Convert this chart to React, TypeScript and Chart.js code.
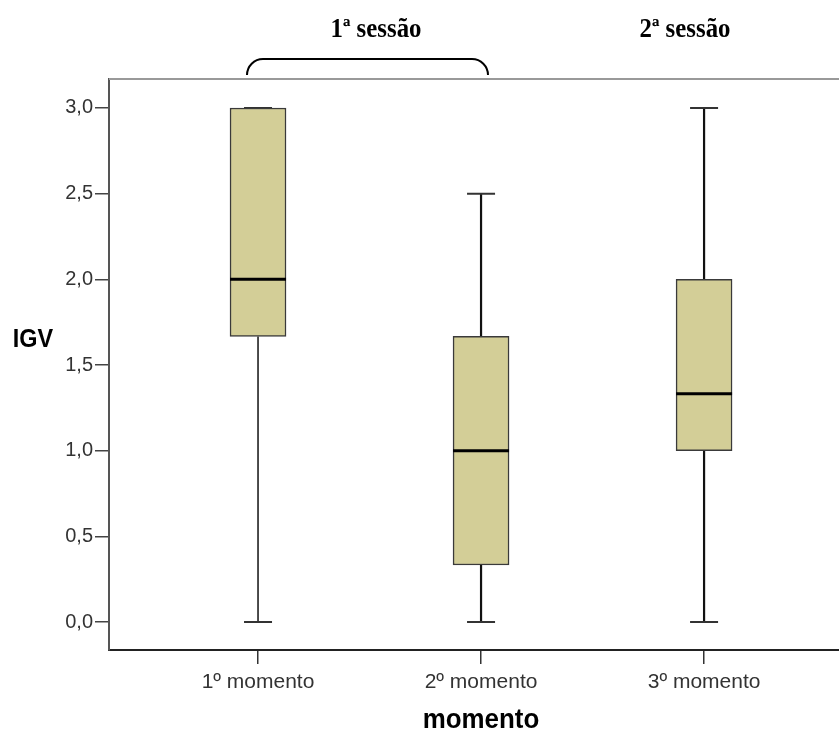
import React, { useEffect, useRef } from 'react';
import { Chart, registerables } from 'chart.js';

Chart.register(...registerables);

const categories = ['1º momento', '2º momento', '3º momento'];
const positions = [1, 2, 3];
const minimums = [0, 0, 0];
const lowerQuartiles = [1.667, 0.333, 1.0];
const medians = [2.0, 1.0, 1.333];
const upperQuartiles = [3.0, 1.667, 2.0];
const maximums = [3.0, 2.5, 3.0];
const yTicks = [0, 0.5, 1, 1.5, 2, 2.5, 3];
const sessionLabels = ['1ª sessão', '2ª sessão'];
const yTitle = 'IGV';
const xTitle = 'momento';

const SANS = '"Liberation Sans", Arial, sans-serif';
const SERIF = '"Liberation Serif", "Times New Roman", serif';

function condensedText(
  ctx: CanvasRenderingContext2D,
  text: string,
  x: number,
  y: number,
  font: string,
  sx: number,
  color: string
) {
  ctx.save();
  ctx.font = font;
  ctx.fillStyle = color;
  ctx.textAlign = 'center';
  ctx.textBaseline = 'alphabetic';
  ctx.translate(x, y);
  ctx.scale(sx, 1);
  ctx.fillText(text, 0, 0);
  ctx.restore();
}

const boxPlugin = {
  id: 'boxExtras',
  beforeDatasetsDraw(chart: any) {
    const { ctx, scales } = chart;
    const xs = scales.x;
    const ys = scales.y;
    ctx.save();
    positions.forEach((p, i) => {
      const cx = xs.getPixelForValue(p);
      const lw = i === 0 ? 1.5 : 2.2;
      ctx.strokeStyle = '#111';
      ctx.lineWidth = lw;
      ctx.beginPath();
      ctx.moveTo(cx, ys.getPixelForValue(minimums[i]));
      ctx.lineTo(cx, ys.getPixelForValue(lowerQuartiles[i]));
      ctx.moveTo(cx, ys.getPixelForValue(upperQuartiles[i]));
      ctx.lineTo(cx, ys.getPixelForValue(maximums[i]));
      ctx.stroke();
      ctx.strokeStyle = '#333';
      ctx.lineWidth = 2;
      ctx.beginPath();
      [minimums[i], maximums[i]].forEach((v) => {
        const y = ys.getPixelForValue(v);
        ctx.moveTo(cx - 14, y);
        ctx.lineTo(cx + 14, y);
      });
      ctx.stroke();
    });
    ctx.restore();
  },
  afterDatasetsDraw(chart: any) {
    const { ctx, scales } = chart;
    const xs = scales.x;
    const ys = scales.y;
    ctx.save();
    ctx.strokeStyle = '#000';
    ctx.lineWidth = 3;
    positions.forEach((p, i) => {
      const cx = xs.getPixelForValue(p);
      const y = ys.getPixelForValue(medians[i]);
      ctx.beginPath();
      ctx.moveTo(cx - 28, y);
      ctx.lineTo(cx + 28, y);
      ctx.stroke();
    });
    ctx.restore();
  },
  afterDraw(chart: any) {
    const { ctx, chartArea } = chart;
    ctx.save();
    // top frame line
    ctx.strokeStyle = '#999';
    ctx.lineWidth = 2;
    ctx.beginPath();
    ctx.moveTo(chartArea.left, chartArea.top);
    ctx.lineTo(chartArea.right, chartArea.top);
    ctx.stroke();

    // brace over first session
    ctx.strokeStyle = '#000';
    ctx.lineWidth = 2;
    ctx.beginPath();
    ctx.moveTo(247, 74);
    ctx.arcTo(247, 59, 263, 59, 16);
    ctx.lineTo(472, 59);
    ctx.arcTo(488, 59, 488, 74, 16);
    ctx.stroke();

    condensedText(ctx, sessionLabels[0], 376, 37, `bold 27px ${SERIF}`, 0.92, '#000');
    condensedText(ctx, sessionLabels[1], 685, 37, `bold 27px ${SERIF}`, 0.92, '#000');

    condensedText(ctx, yTitle, 33, 347, `bold 26px ${SANS}`, 0.9, '#000');
    condensedText(ctx, xTitle, 481, 728, `bold 27px ${SANS}`, 0.96, '#000');
    ctx.restore();
  },
};

export default function App() {
  const canvasRef = useRef<HTMLCanvasElement | null>(null);

  useEffect(() => {
    const canvas = canvasRef.current;
    if (!canvas) return;
    const chart = new Chart(canvas, {
      type: 'bar',
      data: {
        datasets: [
          {
            label: 'IGV',
            data: positions.map((p, i) => ({ x: p, y: [lowerQuartiles[i], upperQuartiles[i]] })) as any,
            backgroundColor: '#D3CE97',
            borderColor: '#3a3a3a',
            borderWidth: 1.5,
            borderSkipped: false,
            barThickness: 56,
          },
        ],
      },
      options: {
        animation: false,
        responsive: false,
        devicePixelRatio: 1,
        layout: { padding: { top: 79, left: 0, right: 0, bottom: 0 } },
        plugins: { legend: { display: false }, tooltip: { enabled: false } },
        scales: {
          x: {
            type: 'linear',
            offset: false,
            min: 0.3318,
            max: 3.605,
            afterBuildTicks: (s: any) => {
              s.ticks = positions.map((v) => ({ value: v }));
            },
            afterFit: (s: any) => {
              s.height = 81;
            },
            ticks: {
              callback: (_v: any, idx: number) => categories[idx] ?? '',
              font: { family: SANS, size: 21 },
              color: '#333',
              padding: 6,
              maxRotation: 0,
              autoSkip: false,
            },
            grid: {
              offset: false,
              drawOnChartArea: false,
              drawTicks: true,
              tickLength: 14,
              color: '#333',
              lineWidth: 1.5,
            },
            border: { display: true, color: '#222', width: 2 },
          },
          y: {
            type: 'linear',
            min: -0.163,
            max: 3.169,
            afterBuildTicks: (s: any) => {
              s.ticks = yTicks.map((v) => ({ value: v }));
            },
            afterFit: (s: any) => {
              s.width = 109;
            },
            ticks: {
              callback: (v: any) => Number(v).toFixed(1).replace('.', ','),
              font: { family: SANS, size: 20 },
              color: '#333',
              padding: 2,
            },
            grid: { drawOnChartArea: false, drawTicks: true, tickLength: 14, color: '#444', lineWidth: 1.5 },
            border: { display: true, color: '#555', width: 2 },
          },
        },
      } as any,
      plugins: [boxPlugin],
    });
    return () => chart.destroy();
  }, []);

  return (
    <div style={{ position: 'absolute', left: 0, top: 0, width: 839, height: 731, background: '#fff' }}>
      <canvas ref={canvasRef} width={839} height={731} />
    </div>
  );
}
